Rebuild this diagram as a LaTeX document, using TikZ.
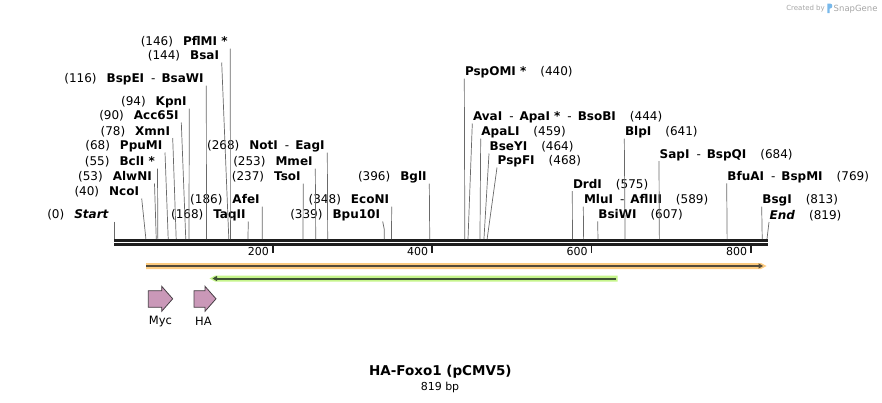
\documentclass[tikz,border=0pt]{standalone}
\usepackage{fontspec}
\setmainfont{DejaVu Sans}
\usetikzlibrary{arrows.meta}

\definecolor{cutgray}{RGB}{105,105,105}
\definecolor{bbdark}{RGB}{30,30,30}
\definecolor{orfband}{RGB}{252,203,128}
\definecolor{orfdark}{RGB}{82,74,58}
\definecolor{grnband}{RGB}{198,245,140}
\definecolor{grndark}{RGB}{62,82,52}
\definecolor{featfill}{RGB}{202,152,184}
\definecolor{featline}{RGB}{70,62,68}
\definecolor{logogray}{RGB}{165,165,165}
\definecolor{snapblue}{RGB}{120,185,235}

\newcommand{\lgap}{\hspace{10pt}}
\newcommand{\rgap}{\hspace{14pt}}
\newcommand{\dsh}{\hspace{7pt}-\hspace{6pt}}

\begin{document}
\begin{tikzpicture}[
  x=1pt, y=-1pt,
  lsite/.style={anchor=south east, inner xsep=2.5pt, inner ysep=0pt, text height=9pt, text depth=2.6pt, font=\fontsize{12}{14}\selectfont},
  rsite/.style={lsite, anchor=south west, inner xsep=0.5pt},
  cut/.style={draw=cutgray, line width=0.7pt},
  bb/.style={draw=bbdark, line width=2.6pt},
  tick/.style={draw=bbdark, line width=1.8pt},
  tlabel/.style={anchor=base east, inner xsep=3pt, yshift=-3.2pt, font=\fontsize{11}{13}\selectfont},
  feat/.style={fill=featfill, draw=featline, line width=0.8pt, line join=miter},
  flabel/.style={font=\fontsize{11.5}{13}\selectfont, inner sep=0pt}
]
\useasboundingbox (0,0) rectangle (882,402);

% Sites on the sequence
\foreach \p in {0,40,53,55,68,78,90,94,116,144,146,168,186,237,253,268,339,348,396,440,444,459,464,468,575,589,607,641,684,769,813,819}
  \coordinate (s\p) at ({114+0.7973*\p},239);

% Backbone
\coordinate (bbl) at (114,240.4);
\coordinate (bbr) at (767.7,240.4);
\draw[bb] (bbl) -- (bbr);
\draw[bb] ([yshift=-4.1pt]bbl) -- ([yshift=-4.1pt]bbr);

% Ruler
\foreach \t in {200,400,600,800}
  \draw[tick] ({113.2+0.7973*\t},246) -- ++(0,6.5) node[tlabel] (t\t) {\t};

% Enzymes left of their cut
\node[lsite] (pflmi) at (230.3,48.5) {(146)\lgap\textbf{PflMI *}};
\node[lsite] (bsai) at (221.7,62.5) {(144)\lgap\textbf{BsaI}};
\node[lsite] (bspei) at (206.3,85.5) {(116)\lgap\textbf{BspEI}\dsh\textbf{BsaWI}};
\node[lsite] (kpni) at (189.3,108.5) {(94)\lgap\textbf{KpnI}};
\node[lsite] (acc65i) at (181.3,122.5) {(90)\lgap\textbf{Acc65I}};
\node[lsite] (xmni) at (172.7,138) {(78)\lgap\textbf{XmnI}};
\node[lsite] (ppumi) at (165,152.5) {(68)\lgap\textbf{PpuMI}};
\node[lsite] (bcli) at (157.5,168.5) {(55)\lgap\textbf{BclI *}};
\node[lsite] (alwni) at (154.5,183.5) {(53)\lgap\textbf{AlwNI}};
\node[lsite] (ncoi) at (141.7,198.5) {(40)\lgap\textbf{NcoI}};
\node[lsite, inner xsep=5pt] (start) at (114,221.5) {(0)\lgap\textbf{\textit{Start}}};
\node[lsite] (afei) at (262.3,206.5) {(186)\lgap\textbf{AfeI}};
\node[lsite] (taqii) at (248.3,221.5) {(168)\lgap\textbf{TaqII}};
\node[lsite] (noti) at (327.3,152.5) {(268)\lgap\textbf{NotI}\dsh\textbf{EagI}};
\node[lsite] (mmei) at (315.3,168.5) {(253)\lgap\textbf{MmeI}};
\node[lsite] (tsoi) at (303.3,183.5) {(237)\lgap\textbf{TsoI}};
\node[lsite] (econi) at (391.7,206.5) {(348)\lgap\textbf{EcoNI}};
\node[lsite] (bpu) at (382.7,221.5) {(339)\lgap\textbf{Bpu10I}};
\node[lsite] (bgli) at (429.3,183.5) {(396)\lgap\textbf{BglI}};

% Enzymes right of their cut
\node[rsite] (pspomi) at (464.3,78.5) {\textbf{PspOMI *}\rgap(440)};
\node[rsite] (avai) at (472.3,123.5) {\textbf{AvaI}\dsh\textbf{ApaI *}\dsh\textbf{BsoBI}\rgap(444)};
\node[rsite] (apali) at (480.7,138.5) {\textbf{ApaLI}\rgap(459)};
\node[rsite] (bseyi) at (489,153.5) {\textbf{BseYI}\rgap(464)};
\node[rsite] (pspfi) at (497,167.5) {\textbf{PspFI}\rgap(468)};
\node[rsite] (blpi) at (624.3,138.5) {\textbf{BlpI}\rgap(641)};
\node[rsite] (sapi) at (659,161) {\textbf{SapI}\dsh\textbf{BspQI}\rgap(684)};
\node[rsite] (bfuai) at (726.7,183.4) {\textbf{BfuAI}\dsh\textbf{BspMI}\rgap(769)};
\node[rsite] (drdi) at (572.3,191) {\textbf{DrdI}\rgap(575)};
\node[rsite] (mlui) at (583.3,206.7) {\textbf{MluI}\dsh\textbf{AflIII}\rgap(589)};
\node[rsite] (bsiwi) at (597.7,221.4) {\textbf{BsiWI}\rgap(607)};
\node[rsite] (bsgi) at (761.7,206.7) {\textbf{BsgI}\rgap(813)};
\node[rsite] (endl) at (769,222) {\textbf{\textit{End}}\rgap(819)};

% Cut lines
\foreach \n/\p in {pflmi/146, bsai/144, bspei/116, kpni/94, acc65i/90, xmni/78, ppumi/68, bcli/55, alwni/53, ncoi/40, start/0, afei/186, taqii/168, noti/268, mmei/253, tsoi/237, econi/348, bgli/396}
  \draw[cut] (\n.south east) -- (s\p);
\foreach \n/\p in {pspomi/440, avai/444, apali/459, bseyi/464, pspfi/468, blpi/641, sapi/684, bfuai/769, drdi/575, mlui/589, bsiwi/607, bsgi/813, endl/819}
  \draw[cut] (\n.south west) -- (s\p);
\draw[cut] (bpu.south east) -- ++(1.6,8) -- (s339);

% ORF forward
\fill[orfband] (146,263) -- (761,263) -- (766.5,266) -- (761,269) -- (146,269) -- cycle;
\draw[orfdark, line width=2pt, -{Triangle[length=4.5pt,width=5pt]}] (146,266) -- (763,266);

% ORF reverse
\fill[grnband] (617.7,275.5) -- (215,275.5) -- (209.5,278.5) -- (215,281.5) -- (617.7,281.5) -- cycle;
\draw[grndark, line width=2pt, -{Triangle[length=4.5pt,width=5pt]}] (615.7,278.5) -- (212.5,278.5);

% Tags
\filldraw[feat] (148.3,290.7) -- (161.7,290.7) -- (161.7,286.3) -- (172.7,298.8) -- (161.7,311.3) -- (161.7,307.3) -- (148.3,307.3) -- cycle;
\filldraw[feat] (194,290.7) -- (205,290.7) -- (205,286.3) -- (216,298.8) -- (205,311.3) -- (205,307.3) -- (194,307.3) -- cycle;
\node[flabel] (myc) at (160.5,321) {Myc};
\node[flabel] (ha) at (203.5,321) {HA};

% Title
\node[font=\bfseries\fontsize{13.5}{15}\selectfont] (title) at (440.3,372) {HA-Foxo1 (pCMV5)};
\node[font=\fontsize{11}{13}\selectfont] (len) at (440,387) {819 bp};

% Stamp
\node[anchor=base east, inner sep=0pt, text=logogray, font=\fontsize{7}{8}\selectfont] (made) at (825,10.5) {Created by};
\fill[snapblue] (827.3,3.5) -- (830,3.5) .. controls (833,3.5) and (833,8.5) .. (830,8.5) -- (829.6,8.5) -- (829.6,13) -- (827.3,13) -- cycle;
\node[anchor=base west, inner sep=0pt, text=logogray, font=\fontsize{8.5}{9}\selectfont] (snap) at (833.5,11) {SnapGene};
\end{tikzpicture}
\end{document}
